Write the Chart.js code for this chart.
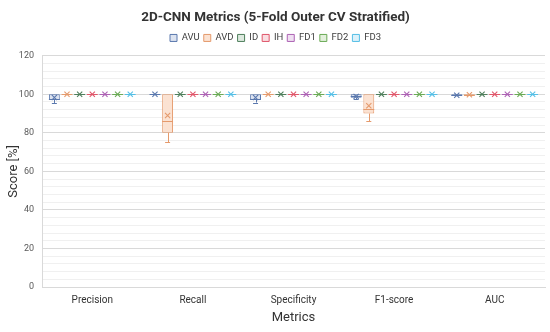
<!DOCTYPE html>
<html>
<head>
<meta charset="utf-8">
<script src="https://cdn.jsdelivr.net/npm/chart.js@4"></script>
<style>
html,body{margin:0;padding:0;background:#fff;}
#wrap{width:550px;height:332px;}
</style>
</head>
<body>
<div id="wrap"><canvas id="c" width="550" height="332"></canvas></div>
<script>
const categories = ['Precision', 'Recall', 'Specificity', 'F1-score', 'AUC'];
const seriesNames = ['AVU', 'AVD', 'ID', 'IH', 'FD1', 'FD2', 'FD3'];
const yTickStep = 4;
const yLabelStep = 20;

// five-number summaries + mean per series (order follows categories)
const AVU = { min: [95.5, 100, 95.7, 97.5, 99.0], q1: [97.0, 100, 97.2, 98.2, 99.2], med: [97.5, 100, 97.5, 99.0, 99.6], q3: [100, 100, 100, 100, 100], max: [100, 100, 100, 100, 100], mean: [98.3, 100, 98.3, 98.9, 99.5] };
const AVD = { min: [100, 75, 100, 86, 99.3], q1: [100, 80, 100, 90, 99.5], med: [100, 86, 100, 92.5, 99.8], q3: [100, 100, 100, 100, 100], max: [100, 100, 100, 100, 100], mean: [100, 89, 100, 94, 99.7] };
const ID  = { min: [100, 100, 100, 100, 100], q1: [100, 100, 100, 100, 100], med: [100, 100, 100, 100, 100], q3: [100, 100, 100, 100, 100], max: [100, 100, 100, 100, 100], mean: [100, 100, 100, 100, 100] };
const IH  = { min: [100, 100, 100, 100, 100], q1: [100, 100, 100, 100, 100], med: [100, 100, 100, 100, 100], q3: [100, 100, 100, 100, 100], max: [100, 100, 100, 100, 100], mean: [100, 100, 100, 100, 100] };
const FD1 = { min: [100, 100, 100, 100, 100], q1: [100, 100, 100, 100, 100], med: [100, 100, 100, 100, 100], q3: [100, 100, 100, 100, 100], max: [100, 100, 100, 100, 100], mean: [100, 100, 100, 100, 100] };
const FD2 = { min: [100, 100, 100, 100, 100], q1: [100, 100, 100, 100, 100], med: [100, 100, 100, 100, 100], q3: [100, 100, 100, 100, 100], max: [100, 100, 100, 100, 100], mean: [100, 100, 100, 100, 100] };
const FD3 = { min: [100, 100, 100, 100, 100], q1: [100, 100, 100, 100, 100], med: [100, 100, 100, 100, 100], q3: [100, 100, 100, 100, 100], max: [100, 100, 100, 100, 100], mean: [100, 100, 100, 100, 100] };

const seriesStats = [AVU, AVD, ID, IH, FD1, FD2, FD3];
const borderColors = ['#5a78ae', '#e59a6c', '#4f7f5c', '#e0566a', '#ad62b4', '#6aaa55', '#55bfe6'];
const fillColors   = ['#dce3f0', '#fbe2d2', '#dde9df', '#f9dde1', '#efdff1', '#e3f0dc', '#dcf1fa'];

const datasets = seriesNames.map((name, i) => ({
  label: name,
  data: categories.map((c, j) => [seriesStats[i].q1[j], seriesStats[i].q3[j]]),
  backgroundColor: fillColors[i],
  borderColor: borderColors[i],
  borderWidth: 1,
  borderSkipped: false,
  categoryPercentage: 0.88,
  barPercentage: 0.86
}));

const boxPlugin = {
  id: 'boxExtras',
  afterDatasetsDraw(chart) {
    const ctx = chart.ctx;
    const y = chart.scales.y;
    chart.data.datasets.forEach((ds, i) => {
      const meta = chart.getDatasetMeta(i);
      const st = seriesStats[i];
      meta.data.forEach((bar, j) => {
        const x = bar.x;
        const hw = bar.width / 2;
        const col = borderColors[i];
        ctx.save();
        ctx.strokeStyle = col;
        ctx.lineWidth = 1;
        const yq1 = y.getPixelForValue(st.q1[j]);
        const yq3 = y.getPixelForValue(st.q3[j]);
        const ymin = y.getPixelForValue(st.min[j]);
        const ymax = y.getPixelForValue(st.max[j]);
        const ymed = y.getPixelForValue(st.med[j]);
        const ymean = y.getPixelForValue(st.mean[j]);
        const cap = 2.5;
        ctx.beginPath();
        if (ymin > yq1 + 0.5) {
          ctx.moveTo(Math.round(x) + 0.5, yq1); ctx.lineTo(Math.round(x) + 0.5, ymin);
          ctx.moveTo(x - cap, Math.round(ymin) + 0.5); ctx.lineTo(x + cap, Math.round(ymin) + 0.5);
        }
        if (ymax < yq3 - 0.5) {
          ctx.moveTo(Math.round(x) + 0.5, yq3); ctx.lineTo(Math.round(x) + 0.5, ymax);
          ctx.moveTo(x - cap, Math.round(ymax) + 0.5); ctx.lineTo(x + cap, Math.round(ymax) + 0.5);
        }
        ctx.moveTo(x - hw, Math.round(ymed) + 0.5); ctx.lineTo(x + hw, Math.round(ymed) + 0.5);
        ctx.stroke();
        const r = 2.6;
        ctx.beginPath();
        ctx.moveTo(x - r, ymean - r); ctx.lineTo(x + r, ymean + r);
        ctx.moveTo(x + r, ymean - r); ctx.lineTo(x - r, ymean + r);
        ctx.lineWidth = 1.1;
        ctx.stroke();
        ctx.restore();
      });
    });
  }
};

new Chart(document.getElementById('c'), {
  type: 'bar',
  data: { labels: categories, datasets },
  plugins: [boxPlugin],
  options: {
    responsive: false,
    animation: false,
    devicePixelRatio: 1,
    layout: { padding: { left: 6, right: 5, top: 4, bottom: 6 } },
    plugins: {
      title: {
        display: true,
        text: '2D-CNN Metrics (5-Fold Outer CV Stratified)',
        color: '#333333',
        font: { family: 'Roboto', size: 13.5, weight: 'bold' },
        padding: { top: 6, bottom: 3 }
      },
      legend: {
        display: true,
        position: 'top',
        labels: {
          boxWidth: 7, boxHeight: 7,
          color: '#404040',
          padding: 4,
          font: { family: 'Roboto', size: 9.5 }
        }
      },
      tooltip: { enabled: false }
    },
    scales: {
      x: {
        afterFit(scale) { scale.height = 39; },
        grid: { display: false, drawTicks: false },
        border: { color: '#d9d9d9' },
        ticks: { color: '#333333', font: { family: 'Roboto', size: 10 }, padding: 7 },
        title: { display: true, text: 'Metrics', color: '#333333', font: { family: 'Roboto', size: 13 }, padding: { top: 0, bottom: 0 } }
      },
      xTop: {
        type: 'category',
        position: 'top',
        afterFit(scale) { scale.height = 3; },
        grid: { display: false, drawTicks: false },
        border: { display: false },
        ticks: { display: false }
      },
      y: {
        min: 0, max: 120,
        afterFit(scale) { scale.width = 36; },
        grid: {
          drawTicks: false,
          color: (c) => (c.tick && c.tick.value % yLabelStep === 0) ? '#d9d9d9' : '#f0f0f0'
        },
        border: { color: '#d9d9d9' },
        ticks: {
          stepSize: yTickStep,
          autoSkip: false,
          padding: 8,
          color: '#595959',
          font: { family: 'Roboto', size: 9 },
          callback: (v) => (v % yLabelStep === 0 ? v : '')
        },
        title: { display: true, text: 'Score [%]', color: '#333333', font: { family: 'Roboto', size: 13 }, padding: { top: 0, bottom: 2 } }
      }
    }
  }
});
</script>
</body>
</html>
